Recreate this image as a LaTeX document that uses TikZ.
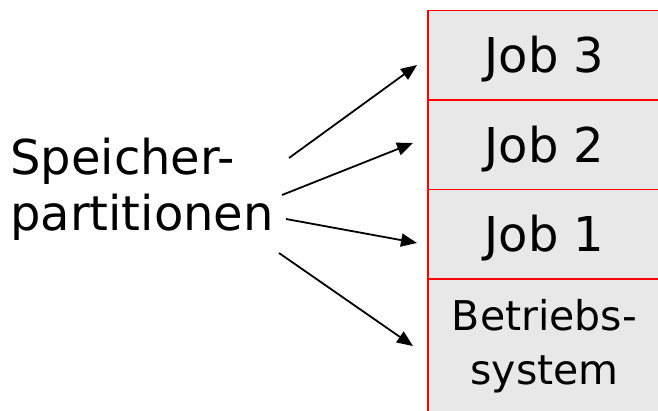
\documentclass[tikz,border=0pt]{standalone}
\usepackage{fontspec}
\setmainfont{DejaVu Sans}
\usetikzlibrary{arrows.meta}
\definecolor{boxfill}{RGB}{232,232,232}
\begin{document}
\begin{tikzpicture}[x=1pt,y=-1pt,
  membox/.style={draw=red, line width=1.5pt, fill=boxfill, minimum width=233pt,
    minimum height=89.5pt, inner sep=0pt, outer sep=0pt, anchor=north west,
    font=\fontsize{48}{56}\selectfont, text height=35pt, text depth=0pt},
  osbox/.style={membox, minimum height=134pt, align=center,
    font=\fontsize{41}{54}\selectfont, text height=, text depth=},
  arr/.style={line width=1.8pt, -{Triangle[length=16pt,width=13pt]}}
]
\useasboundingbox (0,0) rectangle (658,410);
\node[membox] (j3) at (428,10.5) {Job 3};
\node[membox] (j2) at (j3.south west) {Job 2};
\node[membox] (j1) at (j2.south west) {Job 1};
\node[osbox] (os) at (j1.south west) {Betriebs-\\system};
\node[anchor=base west, align=left, inner sep=0pt,
  font=\fontsize{48}{56}\selectfont] (sp) at (10,230) {Speicher-\\partitionen};
\coordinate (s1) at (289,158);
\coordinate (s2) at (282,195);
\coordinate (s3) at (286,219);
\coordinate (s4) at (279,253);
\coordinate (e1) at (417,65);
\coordinate (e2) at (413,143);
\coordinate (e3) at (417,243);
\coordinate (e4) at (413,346);
\draw[arr] (s1) -- (e1);
\draw[arr] (s2) -- (e2);
\draw[arr] (s3) -- (e3);
\draw[arr] (s4) -- (e4);
\end{tikzpicture}
\end{document}
